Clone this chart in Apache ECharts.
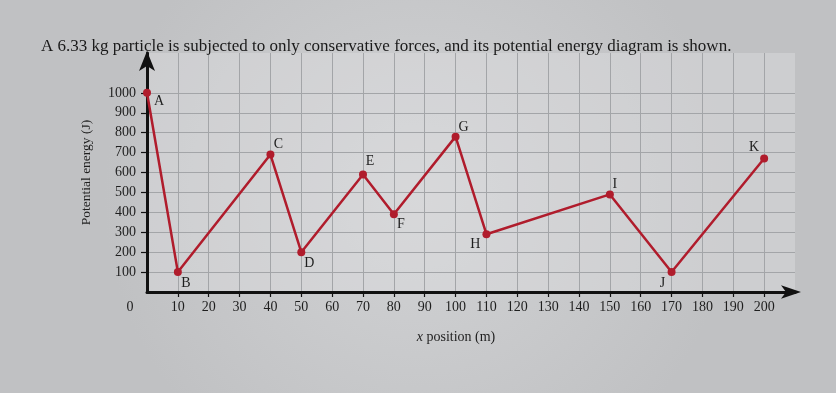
<!DOCTYPE html>
<html>
<head>
<meta charset="utf-8">
<script src="https://cdn.jsdelivr.net/npm/echarts@6/dist/echarts.min.js"></script>
<style>
  html, body { margin: 0; padding: 0; }
  #chart { width: 836px; height: 393px; }
</style>
</head>
<body>
<div id="chart"></div>
<script>
// ---- data ----
const titleText = 'A 6.33 kg particle is subjected to only conservative forces, and its potential energy diagram is shown.';
const pointNames = ['A', 'B', 'C', 'D', 'E', 'F', 'G', 'H', 'I', 'J', 'K'];
const xPositions = [0, 10, 40, 50, 70, 80, 100, 110, 150, 170, 200];
const energies = [1000, 100, 690, 200, 590, 390, 780, 290, 490, 100, 670];
const xTickValues = [0, 10, 20, 30, 40, 50, 60, 70, 80, 90, 100, 110, 120, 130, 140, 150, 160, 170, 180, 190, 200];
const yTickValues = [100, 200, 300, 400, 500, 600, 700, 800, 900, 1000];
const xAxisTitle = '{i|x} position (m)';
const yAxisTitle = 'Potential energy (J)';

// ---- label placement (style) ----
const labelOffsets = {
  A: [12, 8], B: [8, 11], C: [8, -10], D: [8, 11], E: [7, -13], F: [7, 10],
  G: [8, -9], H: [-11, 10], I: [5, -10], J: [-9, 11], K: [-10, -11]
};

const serif = '"Liberation Serif", "DejaVu Serif", serif';
const red = '#b01c2c';
const textColor = '#1e1e1e';

const seriesData = xPositions.map((x, i) => ({
  value: [x, energies[i]],
  name: pointNames[i],
  label: {
    show: true,
    position: 'inside',
    offset: labelOffsets[pointNames[i]],
    formatter: pointNames[i],
    color: textColor,
    fontFamily: serif,
    fontSize: 14
  }
}));

const chart = echarts.init(document.getElementById('chart'));
chart.setOption({
  backgroundColor: {
    type: 'radial', x: 0.5, y: 0.5, r: 0.8,
    colorStops: [{ offset: 0, color: '#d2d3d5' }, { offset: 1, color: '#c0c1c3' }]
  },
  animation: false,
  title: {
    text: titleText,
    left: 36,
    top: 33,
    textStyle: { fontFamily: serif, fontSize: 17, fontWeight: 'normal', color: '#1a1a1a' }
  },
  grid: {
    left: 147, right: 41, top: 53, bottom: 101, containLabel: false,
    show: true, backgroundColor: 'rgba(222,222,224,0.45)', borderWidth: 0
  },
  xAxis: {
    type: 'value',
    min: 0, max: 210, interval: 10,
    name: xAxisTitle,
    nameLocation: 'middle',
    nameGap: 38,
    nameTextStyle: {
      fontFamily: serif, fontSize: 14, color: textColor, padding: [0, 30, 0, 0],
      rich: { i: { fontStyle: 'italic', fontFamily: serif, fontSize: 14, color: textColor } }
    },
    axisLine: {
      show: true, onZero: false,
      symbol: ['none', 'arrow'], symbolSize: [10, 20], symbolOffset: [0, 6],
      lineStyle: { color: '#111', width: 3 }
    },
    axisTick: {
      show: true, length: 5, inside: false,
      lineStyle: { color: '#111', width: 1.2 },
      customValues: xTickValues.filter(v => v > 0)
    },
    axisLabel: {
      fontFamily: serif, fontSize: 14, color: textColor, margin: 8,
      customValues: xTickValues,
      formatter: v => (v === 0 ? '{z|0}' : String(v)),
      rich: { z: { fontFamily: serif, fontSize: 14, color: textColor, padding: [0, 34, 0, 0] } }
    },
    splitLine: { show: true, lineStyle: { color: '#a3a5a8', width: 1 } }
  },
  yAxis: {
    type: 'value',
    min: 0, max: 1200, interval: 100,
    name: yAxisTitle,
    nameLocation: 'middle',
    nameGap: 54,
    nameRotate: 90,
    nameTextStyle: { fontFamily: serif, fontSize: 13.5, color: textColor },
    axisLine: {
      show: true, onZero: false,
      symbol: ['none', 'arrow'], symbolSize: [12, 20], symbolOffset: [0, 2],
      lineStyle: { color: '#111', width: 3 }
    },
    axisTick: {
      show: true, length: 6,
      lineStyle: { color: '#111', width: 1.2 },
      customValues: yTickValues
    },
    axisLabel: {
      fontFamily: serif, fontSize: 14, color: textColor, margin: 11,
      customValues: yTickValues,
      formatter: v => String(v)
    },
    splitLine: { show: true, lineStyle: { color: '#a3a5a8', width: 1 } }
  },
  series: [{
    type: 'line',
    data: seriesData,
    lineStyle: { color: red, width: 2.5 },
    itemStyle: { color: red },
    symbol: 'circle',
    symbolSize: 8,
    showAllSymbol: true,
    z: 5
  }]
});
</script>
</body>
</html>
